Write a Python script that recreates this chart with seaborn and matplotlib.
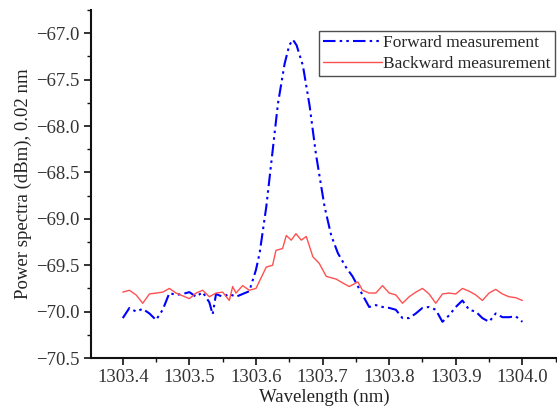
import numpy as np
import matplotlib
matplotlib.use('Agg')
import matplotlib.pyplot as plt
import seaborn as sns
from matplotlib.ticker import MultipleLocator, FuncFormatter

# forward measurement (blue, dash-dot-dot)
fwd_x = [1303.40, 1303.41, 1303.42, 1303.43, 1303.44, 1303.45, 1303.46, 1303.47, 1303.48, 1303.49,
         1303.50, 1303.51, 1303.52, 1303.53, 1303.535, 1303.54, 1303.55, 1303.56, 1303.57, 1303.58,
         1303.59, 1303.60, 1303.6055, 1303.6155, 1303.6245, 1303.633, 1303.643, 1303.650, 1303.6555, 1303.661,
         1303.6705, 1303.6805, 1303.690, 1303.703, 1303.713, 1303.723, 1303.735, 1303.745, 1303.76,
         1303.77, 1303.78, 1303.79, 1303.80, 1303.81, 1303.82, 1303.83, 1303.84, 1303.85, 1303.86,
         1303.87, 1303.88, 1303.89, 1303.90, 1303.91, 1303.92, 1303.93, 1303.94, 1303.95, 1303.96,
         1303.97, 1303.98, 1303.99, 1304.00]
fwd_y = [-70.07, -69.96, -70.00, -69.97, -70.02, -70.09, -69.98, -69.80, -69.82, -69.81,
         -69.79, -69.84, -69.79, -69.90, -70.03, -69.81, -69.84, -69.81, -69.84, -69.81,
         -69.78, -69.55, -69.37, -68.87, -68.30, -67.76, -67.33, -67.13, -67.07, -67.13,
         -67.35, -67.78, -68.30, -68.87, -69.18, -69.37, -69.52, -69.62, -69.82,
         -69.95, -69.93, -69.95, -69.96, -69.98, -70.07, -70.07, -70.02, -69.96, -69.95,
         -69.98, -70.11, -70.04, -69.95, -69.88, -69.98, -70.00, -70.07, -70.11, -70.02,
         -70.06, -70.06, -70.05, -70.11]

# backward measurement (red, solid)
bwd_x = [1303.40, 1303.41, 1303.42, 1303.43, 1303.44, 1303.45, 1303.46, 1303.47, 1303.48, 1303.49,
         1303.50, 1303.51, 1303.52, 1303.53, 1303.54, 1303.55, 1303.56, 1303.565, 1303.57, 1303.58,
         1303.59, 1303.60, 1303.6155, 1303.625, 1303.63, 1303.64, 1303.6455, 1303.653, 1303.66, 1303.668,
         1303.6755, 1303.6855, 1303.695, 1303.7055, 1303.7205, 1303.73, 1303.74, 1303.753, 1303.76,
         1303.77, 1303.78, 1303.79, 1303.80, 1303.81, 1303.82, 1303.83, 1303.84, 1303.85, 1303.86,
         1303.87, 1303.88, 1303.89, 1303.90, 1303.91, 1303.92, 1303.93, 1303.94, 1303.95, 1303.96,
         1303.97, 1303.98, 1303.99, 1304.00]
bwd_y = [-69.79, -69.77, -69.82, -69.91, -69.81, -69.80, -69.79, -69.75, -69.80, -69.83,
         -69.86, -69.80, -69.77, -69.84, -69.80, -69.79, -69.88, -69.73, -69.80, -69.72,
         -69.77, -69.75, -69.52, -69.50, -69.34, -69.32, -69.18, -69.23, -69.16, -69.23,
         -69.19, -69.41, -69.48, -69.62, -69.65, -69.69, -69.73, -69.68, -69.77,
         -69.80, -69.80, -69.72, -69.80, -69.82, -69.91, -69.84, -69.79, -69.75, -69.81,
         -69.91, -69.81, -69.80, -69.81, -69.75, -69.78, -69.82, -69.88, -69.80, -69.76,
         -69.81, -69.84, -69.85, -69.88]

sns.set_style('ticks')
plt.rcParams['font.family'] = ['Liberation Serif', 'DejaVu Serif']

fig = plt.figure(figsize=(5.57, 4.08), dpi=100)
ax = fig.add_axes([0.163, 0.1225, 0.837, 0.853])

sns.lineplot(x=fwd_x, y=fwd_y, ax=ax, color='#0000ff', lw=1.5,
             linestyle=(0, (6, 2, 1.2, 2, 1.2, 2)), label='Forward measurement')
sns.lineplot(x=bwd_x, y=bwd_y, ax=ax, color='#ff5050', lw=1.0,
             label='Backward measurement')

ax.set_xlim(1303.352, 1304.052)
ax.set_ylim(-70.5, -66.75)
ax.xaxis.set_major_locator(MultipleLocator(0.1))
ax.xaxis.set_minor_locator(MultipleLocator(0.05))
ax.yaxis.set_major_locator(MultipleLocator(0.5))
ax.yaxis.set_minor_locator(MultipleLocator(0.25))
ax.xaxis.set_major_formatter(FuncFormatter(lambda v, p: '%.1f' % v))
ax.yaxis.set_major_formatter(FuncFormatter(lambda v, p: ('%.1f' % v).replace('-', '\u2212')))

sns.despine(ax=ax)
for s in ['left', 'bottom']:
    ax.spines[s].set_linewidth(1.5)
    ax.spines[s].set_color('#111111')
ax.tick_params(which='major', direction='out', length=5, width=1.2,
               labelsize=13.5, colors='#111111', labelcolor='#333333', pad=3)
ax.tick_params(which='minor', direction='out', length=3, width=1.0, colors='#111111')

ax.set_xlabel('Wavelength (nm)', fontsize=13.5, color='#222222', labelpad=2)
ax.set_ylabel('Power spectra (dBm), 0.02 nm', fontsize=13.5, color='#222222', labelpad=3)

leg = ax.legend(loc='upper right', bbox_to_anchor=(555 / 557, 1 - 31 / 408),
                bbox_transform=fig.transFigure, fontsize=12.5, frameon=True,
                fancybox=False, edgecolor='#222222', handlelength=3.4,
                borderpad=0.25, labelspacing=0.25, handletextpad=0.05, borderaxespad=0)
leg.get_frame().set_linewidth(1.0)

fig.savefig('out.png', dpi=100)
